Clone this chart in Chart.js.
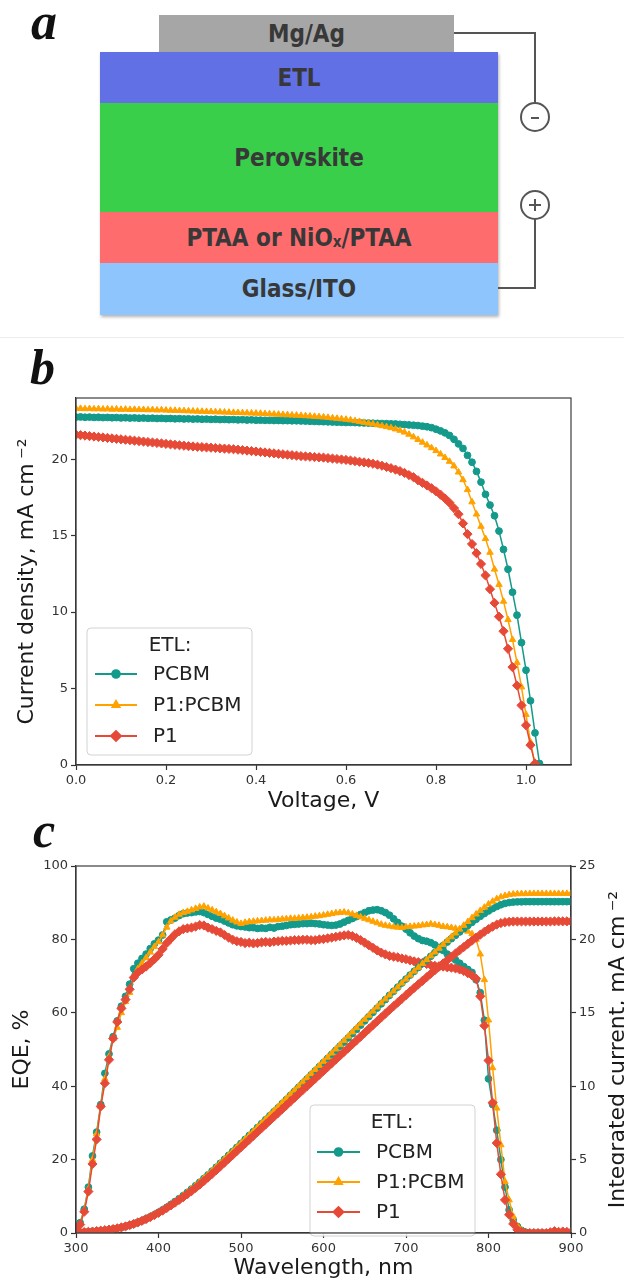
<!DOCTYPE html>
<html>
<head>
<meta charset="utf-8">
<script src="https://cdn.jsdelivr.net/npm/chart.js@4.4.0/dist/chart.umd.min.js"></script>
<style>
  body { margin: 0; background: #fff; }
  #page { position: relative; width: 624px; height: 1283px; overflow: hidden; background: #fff; }
  .plbl { position: absolute; font: bold italic 50px "Liberation Serif", serif; line-height: 50px; color: #111; z-index: 5; }
  .stack { position: absolute; left: 100px; top: 52px; width: 398px; height: 263px; box-shadow: 1px 2px 3px rgba(0,0,0,0.3); }
  .layer { position: absolute; display: flex; align-items: center; justify-content: center;
           font-family: "DejaVu Sans Condensed", "DejaVu Sans", sans-serif; font-stretch: condensed;
           font-weight: bold; font-size: 24px; color: #383838; }
  .layer sub { font-size: 15px; position: relative; top: 4px; vertical-align: baseline; }
  .sep { position: absolute; left: 0; top: 337px; width: 624px; height: 1px; background: #ececec; }
  canvas { position: absolute; left: 0; }
</style>
</head>
<body>
<div id="page">
  <div class="plbl" style="left:31px;top:-3px;font-size:52px;">a</div>
  <div class="layer" style="left:159px;top:15px;width:295px;height:37px;background:#a6a6a6;">Mg/Ag</div>
  <div class="stack">
    <div class="layer" style="left:0;top:0;width:398px;height:51px;background:#6270e6;">ETL</div>
    <div class="layer" style="left:0;top:51px;width:398px;height:109px;background:#3acf4a;">Perovskite</div>
    <div class="layer" style="left:0;top:160px;width:398px;height:51px;background:#ff6c6e;">PTAA or NiO<sub>x</sub>/PTAA</div>
    <div class="layer" style="left:0;top:211px;width:398px;height:52px;background:#8ec5fc;">Glass/ITO</div>
  </div>
  <svg width="624" height="330" style="position:absolute;left:0;top:0;">
    <g fill="none" stroke="#555" stroke-width="2">
      <path d="M454 33 H535 V103"/>
      <circle cx="535" cy="117" r="14"/>
      <circle cx="535" cy="205" r="14"/>
      <path d="M535 219 V288 H498"/>
      <path d="M531 118 H539"/>
      <path d="M529 205 H541 M535 199 V211"/>
    </g>
  </svg>
  <div class="sep"></div>
  <canvas id="jv" width="624" height="472" style="top:340px;"></canvas>
  <canvas id="eqe" width="624" height="471" style="top:812px;"></canvas>
  <div class="plbl" style="left:30px;top:342px;">b</div>
  <div class="plbl" style="left:33px;top:805px;">c</div>
</div>
<script>
// ---- J-V data (panel b) ----
const voltage = [
  0.00,0.01,0.02,0.03,0.04,0.05,0.06,0.07,0.08,0.09,
  0.10,0.11,0.12,0.13,0.14,0.15,0.16,0.17,0.18,0.19,
  0.20,0.21,0.22,0.23,0.24,0.25,0.26,0.27,0.28,0.29,
  0.30,0.31,0.32,0.33,0.34,0.35,0.36,0.37,0.38,0.39,
  0.40,0.41,0.42,0.43,0.44,0.45,0.46,0.47,0.48,0.49,
  0.50,0.51,0.52,0.53,0.54,0.55,0.56,0.57,0.58,0.59,
  0.60,0.61,0.62,0.63,0.64,0.65,0.66,0.67,0.68,0.69,
  0.70,0.71,0.72,0.73,0.74,0.75,0.76,0.77,0.78,0.79,
  0.80,0.81,0.82,0.83,0.84,0.85,0.86,0.87,0.88,0.89,
  0.90,0.91,0.92,0.93,0.94,0.95,0.96,0.97,0.98,0.99,
  1.00,1.01,1.02,1.03
];
const jPCBM = [
  22.75,22.76,22.74,22.75,22.73,22.74,22.72,22.73,22.71,22.72,
  22.70,22.71,22.69,22.70,22.68,22.69,22.67,22.68,22.66,22.67,
  22.65,22.66,22.64,22.65,22.63,22.64,22.62,22.63,22.61,22.62,
  22.60,22.61,22.59,22.60,22.58,22.59,22.57,22.58,22.56,22.57,
  22.55,22.55,22.54,22.54,22.53,22.53,22.52,22.52,22.51,22.51,
  22.50,22.49,22.48,22.47,22.46,22.45,22.44,22.43,22.42,22.41,
  22.40,22.40,22.39,22.38,22.37,22.36,22.35,22.34,22.33,22.32,
  22.31,22.30,22.28,22.26,22.24,22.22,22.20,22.16,22.12,22.06,
  21.96,21.85,21.72,21.55,21.30,21.00,20.70,20.25,19.80,19.20,
  18.50,17.70,17.00,16.30,15.30,14.10,12.80,11.30,9.80,8.00,
  6.20,4.20,2.10,0.10
];
const jBlend = [
  23.30,23.31,23.29,23.30,23.28,23.29,23.27,23.28,23.26,23.27,
  23.25,23.26,23.24,23.25,23.23,23.24,23.22,23.23,23.21,23.22,
  23.20,23.19,23.18,23.17,23.16,23.15,23.14,23.13,23.12,23.11,
  23.10,23.09,23.08,23.07,23.06,23.05,23.04,23.03,23.02,23.01,
  23.00,22.99,22.97,22.96,22.94,22.93,22.91,22.90,22.88,22.87,
  22.85,22.83,22.81,22.79,22.77,22.75,22.72,22.69,22.66,22.63,
  22.60,22.56,22.51,22.46,22.40,22.35,22.30,22.24,22.18,22.12,
  22.05,21.97,21.88,21.76,21.62,21.45,21.28,21.10,20.92,20.74,
  20.55,20.33,20.10,19.85,19.55,19.15,18.65,18.00,17.20,16.40,
  15.60,14.80,13.90,12.80,11.80,10.70,9.50,8.20,6.70,5.10,
  3.30,1.50,0.05
];
const jP1 = [
  21.60,21.57,21.54,21.51,21.48,21.45,21.42,21.39,21.36,21.33,
  21.30,21.27,21.24,21.21,21.18,21.15,21.12,21.09,21.06,21.03,
  21.00,20.97,20.94,20.91,20.88,20.85,20.83,20.81,20.79,20.77,
  20.75,20.73,20.71,20.69,20.67,20.65,20.62,20.59,20.56,20.53,
  20.50,20.47,20.44,20.41,20.38,20.35,20.32,20.29,20.26,20.23,
  20.20,20.18,20.16,20.14,20.12,20.10,20.07,20.04,20.01,19.98,
  19.95,19.91,19.87,19.83,19.79,19.75,19.70,19.64,19.57,19.49,
  19.41,19.32,19.22,19.10,18.96,18.82,18.62,18.45,18.28,18.10,
  17.90,17.68,17.43,17.15,16.80,16.40,15.80,15.10,14.45,13.85,
  13.15,12.40,11.50,10.60,9.70,8.75,7.60,6.40,5.20,3.90,
  2.60,1.30,0.10
];
const jvXTicks = [0.0, 0.2, 0.4, 0.6, 0.8, 1.0];
const jvYTicks = [0, 5, 10, 15, 20];

// ---- EQE data (panel c) ----
const wavelength = [
  300,305,310,315,320,325,330,335,340,345,350,355,360,365,370,375,380,385,390,395,
  400,405,410,415,420,425,430,435,440,445,450,455,460,465,470,475,480,485,490,495,
  500,505,510,515,520,525,530,535,540,545,550,555,560,565,570,575,580,585,590,595,
  600,605,610,615,620,625,630,635,640,645,650,655,660,665,670,675,680,685,690,695,
  700,705,710,715,720,725,730,735,740,745,750,755,760,765,770,775,780,785,790,795,
  800,805,810,815,820,825,830,835,840,845,850,855,860,865,870,875,880,885,890,895,
  900
];
const eqePCBM = [
  0.8,2.8,6.5,12.5,21.0,27.5,35.0,43.5,48.8,53.5,57.8,61.8,64.5,67.8,72.0,73.5,74.8,76.0,77.5,78.8,
  79.8,81.2,84.8,85.3,85.8,86.5,87.0,87.2,87.3,87.5,87.6,87.3,86.8,86.3,85.8,85.5,85.0,84.5,84.0,83.7,
  83.5,83.4,83.2,83.2,83.0,83.1,83.0,83.3,83.1,83.5,83.6,83.8,84.0,84.1,84.2,84.3,84.3,84.4,84.3,84.2,
  84.0,83.9,83.8,83.9,84.2,84.7,85.2,85.7,86.2,86.8,87.3,87.8,88.0,88.1,87.8,87.3,86.6,85.6,84.6,83.6,
  82.8,81.8,80.9,80.2,79.7,79.5,79.1,78.5,77.8,77.0,76.0,75.2,74.4,73.5,72.6,71.8,71.0,69.0,65.5,58.0,
  42.0,35.0,28.0,20.0,12.5,6.3,3.5,1.8,0.7,0.2,0.0,0.0,0.0,0.0,0.0,0.0,0.0,0.0,0.0,0.0,
  0.0
];
const eqeBlend = [
  0.8,2.5,6.3,12.0,20.0,27.0,34.5,42.0,48.0,53.0,56.0,60.0,63.0,65.5,70.0,72.0,73.5,75.0,76.5,78.0,
  79.3,81.2,83.3,85.0,86.0,86.8,87.3,87.6,88.0,88.4,88.8,89.0,88.5,88.0,87.5,87.0,86.4,85.8,85.2,84.7,
  84.3,84.6,84.8,84.9,85.0,85.1,85.2,85.3,85.3,85.4,85.5,85.6,85.7,85.7,85.8,85.9,86.0,86.1,86.3,86.4,
  86.6,86.8,87.0,87.2,87.3,87.4,87.2,86.9,86.5,86.1,85.7,85.3,84.9,84.5,84.1,83.8,83.6,83.4,83.3,83.2,
  83.4,83.5,83.6,83.7,83.9,84.0,84.2,84.0,83.8,83.5,83.4,83.2,83.0,82.8,82.6,82.2,81.5,80.0,76.0,69.0,
  58.0,45.0,34.0,24.0,14.0,9.0,4.5,2.0,0.8,0.3,0.0,0.0,0.0,0.0,0.0,0.0,0.0,0.0,0.0,0.0,
  0.0
];
const eqeP1 = [
  0.8,2.3,5.8,11.3,18.8,25.5,34.5,40.8,47.2,53.0,57.5,61.2,63.6,66.4,69.6,71.0,71.8,72.6,73.6,74.6,
  75.8,77.4,79.0,80.2,81.4,82.2,82.8,83.0,83.2,83.5,83.9,83.8,83.2,82.8,82.3,81.9,81.2,80.5,79.9,79.5,
  79.3,79.0,79.1,78.9,79.0,79.2,79.3,79.2,79.4,79.5,79.6,79.6,79.7,79.8,79.8,79.9,79.9,79.8,79.8,80.0,
  80.1,80.3,80.5,80.7,80.9,81.1,81.2,80.9,80.4,79.8,79.1,78.4,77.7,77.0,76.4,75.9,75.5,75.3,75.1,74.8,
  74.6,74.3,74.0,73.8,73.6,73.3,73.0,72.8,72.7,72.6,72.4,72.3,72.1,71.8,71.4,70.8,70.2,69.3,64.5,56.5,
  47.0,35.5,24.5,16.0,9.0,5.0,2.5,0.9,0.3,0.0,0.0,0.0,0.0,0.0,0.0,0.2,0.5,0.3,0.4,0.3,
  0.2
];
const intPCBM = [
  0.02,0.04,0.06,0.08,0.10,0.13,0.16,0.19,0.23,0.27,0.32,0.38,0.45,0.53,0.62,0.73,0.84,0.97,1.10,1.24,
  1.40,1.57,1.75,1.94,2.14,2.34,2.55,2.77,2.99,3.22,3.46,3.71,3.96,4.22,4.48,4.75,5.02,5.29,5.56,5.83,
  6.10,6.37,6.64,6.91,7.18,7.45,7.72,7.99,8.26,8.53,8.81,9.09,9.37,9.65,9.93,10.21,10.49,10.77,11.05,11.33,
  11.61,11.89,12.17,12.45,12.73,13.01,13.29,13.58,13.87,14.16,14.45,14.74,15.03,15.32,15.61,15.90,16.19,16.47,16.75,17.03,
  17.30,17.57,17.83,18.09,18.35,18.60,18.85,19.10,19.34,19.58,19.82,20.05,20.28,20.51,20.73,20.95,21.16,21.37,21.57,21.76,
  21.94,22.10,22.24,22.36,22.45,22.51,22.54,22.56,22.56,22.57,22.57,22.57,22.57,22.57,22.57,22.57,22.57,22.57,22.57,22.57,
  22.57
];
const intBlend = [
  0.02,0.04,0.06,0.08,0.10,0.13,0.16,0.19,0.23,0.27,0.32,0.38,0.45,0.53,0.62,0.73,0.84,0.96,1.09,1.23,
  1.39,1.56,1.74,1.93,2.13,2.34,2.56,2.78,3.01,3.24,3.48,3.73,3.98,4.24,4.50,4.77,5.04,5.31,5.58,5.85,
  6.12,6.39,6.66,6.93,7.21,7.49,7.77,8.05,8.33,8.61,8.89,9.17,9.45,9.73,10.01,10.29,10.57,10.85,11.13,11.41,
  11.69,11.97,12.25,12.53,12.82,13.11,13.40,13.69,13.98,14.27,14.55,14.83,15.11,15.39,15.67,15.94,16.21,16.48,16.75,17.02,
  17.29,17.56,17.83,18.09,18.35,18.61,18.87,19.13,19.39,19.65,19.91,20.17,20.43,20.69,20.95,21.21,21.47,21.72,21.96,22.18,
  22.40,22.59,22.76,22.89,22.98,23.04,23.08,23.10,23.11,23.11,23.12,23.12,23.12,23.12,23.12,23.12,23.12,23.12,23.12,23.12,
  23.12
];
const intP1 = [
  0.02,0.04,0.06,0.08,0.10,0.13,0.16,0.19,0.23,0.27,0.32,0.38,0.45,0.53,0.62,0.72,0.83,0.95,1.08,1.22,
  1.37,1.53,1.70,1.88,2.06,2.25,2.44,2.64,2.85,3.07,3.30,3.54,3.78,4.03,4.28,4.54,4.80,5.06,5.32,5.58,
  5.84,6.10,6.36,6.62,6.88,7.14,7.40,7.66,7.92,8.18,8.44,8.70,8.96,9.22,9.48,9.74,10.00,10.26,10.52,10.78,
  11.04,11.30,11.56,11.82,12.08,12.34,12.60,12.86,13.12,13.38,13.64,13.90,14.16,14.42,14.68,14.94,15.20,15.45,15.70,15.95,
  16.20,16.45,16.70,16.94,17.18,17.42,17.66,17.90,18.13,18.36,18.59,18.82,19.04,19.26,19.48,19.70,19.91,20.12,20.32,20.52,
  20.70,20.87,21.01,21.11,21.17,21.20,21.22,21.22,21.22,21.22,21.22,21.22,21.22,21.22,21.22,21.22,21.23,21.23,21.23,21.23,
  21.23
];
const eqeXTicks = [300, 400, 500, 600, 700, 800, 900];
const eqeYTicks = [0, 20, 40, 60, 80, 100];
const intYTicks = [0, 5, 10, 15, 20, 25];

const seriesNames = ['PCBM', 'P1:PCBM', 'P1'];
const legendTitle = 'ETL:';

// ---- styles ----
const styles = [
  { color: '#139a8b', pointStyle: 'circle',   radius: 3.4 },
  { color: '#ffa200', pointStyle: 'triangle', radius: 3.7 },
  { color: '#e64a37', pointStyle: 'rectRot',  radius: 4.6 }
];
const FAMILY = "'DejaVu Sans', sans-serif";
const tickFont = { family: FAMILY, size: 13 };
const axisFont = { family: FAMILY, size: 22, lineHeight: 1 };
const INK = '#333';

function series(name, xs, ys, st, axis, order) {
  return {
    label: name,
    data: ys.map((y, i) => ({ x: xs[i], y: y })),
    borderColor: st.color,
    backgroundColor: st.color,
    pointBackgroundColor: st.color,
    pointBorderColor: st.color,
    pointStyle: st.pointStyle,
    pointRadius: st.radius,
    pointBorderWidth: 1,
    borderWidth: 1.5,
    tension: 0,
    yAxisID: axis,
    order: order
  };
}

function setTicks(arr) {
  return s => { s.ticks = arr.map(v => ({ value: v })); };
}

function axis(extra) {
  return Object.assign({
    type: 'linear',
    grid: { drawOnChartArea: false, drawTicks: true, tickLength: 5, tickWidth: 1.2, color: INK },
    border: { display: true, color: INK, width: 1.2 },
    ticks: { font: tickFont, color: INK, padding: 3 }
  }, extra);
}

// legend box, frame and a right-hand axis title
const decor = {
  id: 'decor',
  afterDraw(chart, args, o) {
    const ctx = chart.ctx;
    const L = o.legend;
    ctx.save();
    ctx.fillStyle = 'rgba(255,255,255,0.85)';
    ctx.strokeStyle = '#d2d2d2';
    ctx.lineWidth = 1;
    ctx.beginPath();
    ctx.roundRect(L.x, L.y, L.w, L.h, 4);
    ctx.fill();
    ctx.stroke();

    ctx.font = '20px ' + FAMILY;
    ctx.fillStyle = '#222';
    ctx.textBaseline = 'middle';
    ctx.textAlign = 'center';
    ctx.fillText(legendTitle, L.titleX, L.titleY);
    ctx.textAlign = 'left';
    seriesNames.forEach((name, i) => {
      const st = styles[i];
      const ry = L.rows[i];
      ctx.strokeStyle = st.color;
      ctx.lineWidth = 1.8;
      ctx.beginPath();
      ctx.moveTo(L.line[0], ry);
      ctx.lineTo(L.line[1], ry);
      ctx.stroke();
      ctx.fillStyle = st.color;
      Chart.helpers.drawPoint(ctx, { pointStyle: st.pointStyle, radius: st.radius + 0.5, borderWidth: 1, rotation: 0 },
        (L.line[0] + L.line[1]) / 2, ry);
      ctx.fillStyle = '#222';
      ctx.fillText(name, L.textX, ry + 1);
    });

    const a = chart.chartArea;
    ctx.strokeStyle = '#3c3c3c';
    ctx.lineWidth = 1.2;
    ctx.strokeRect(a.left, a.top, a.right - a.left, a.bottom - a.top);

    if (o.sideTitle) {
      ctx.translate(o.sideTitle.x, (a.top + a.bottom) / 2);
      ctx.rotate(-Math.PI / 2);
      ctx.font = '22px ' + FAMILY;
      ctx.fillStyle = '#1a1a1a';
      ctx.textAlign = 'center';
      ctx.textBaseline = 'alphabetic';
      ctx.fillText(o.sideTitle.text, 0, 0);
    }
    ctx.restore();
  }
};

// ---- panel b ----
new Chart(document.getElementById('jv'), {
  type: 'line',
  data: {
    datasets: [
      series(seriesNames[0], voltage, jPCBM, styles[0], 'y', 2),
      series(seriesNames[1], voltage, jBlend, styles[1], 'y', 1),
      series(seriesNames[2], voltage, jP1, styles[2], 'y', 0)
    ]
  },
  options: {
    responsive: false,
    animation: false,
    events: [],
    devicePixelRatio: 1,
    layout: { padding: { left: 16, right: 53, top: 58, bottom: 0 } },
    plugins: {
      legend: { display: false },
      tooltip: { enabled: false },
      decor: {
        legend: { x: 87, y: 288, w: 165, h: 127, titleX: 170, titleY: 306,
                  rows: [334, 365, 396], line: [95, 137], textX: 153 }
      }
    },
    scales: {
      x: axis({
        min: 0, max: 1.1,
        afterBuildTicks: setTicks(jvXTicks),
        afterFit: s => { s.height = 47; },
        ticks: { font: tickFont, color: INK, padding: 3, callback: v => v.toFixed(1) },
        title: { display: true, text: 'Voltage, V', font: axisFont, color: '#1a1a1a', padding: { top: 0, bottom: 0 } }
      }),
      y: axis({
        min: 0, max: 24,
        afterBuildTicks: setTicks(jvYTicks),
        afterFit: s => { s.width = 60; },
        title: { display: true, text: 'Current density, mA cm\u2009\u207B\u00B2', font: axisFont, color: '#1a1a1a', padding: { top: 0, bottom: 0 } }
      })
    }
  },
  plugins: [decor]
});

// ---- panel c ----
new Chart(document.getElementById('eqe'), {
  type: 'line',
  data: {
    datasets: [
      series(seriesNames[0], wavelength, eqePCBM, styles[0], 'y', 5),
      series(seriesNames[1], wavelength, eqeBlend, styles[1], 'y', 4),
      series(seriesNames[2], wavelength, eqeP1, styles[2], 'y', 3),
      series(seriesNames[0], wavelength, intPCBM, styles[0], 'y2', 2),
      series(seriesNames[1], wavelength, intBlend, styles[1], 'y2', 1),
      series(seriesNames[2], wavelength, intP1, styles[2], 'y2', 0)
    ]
  },
  options: {
    responsive: false,
    animation: false,
    events: [],
    devicePixelRatio: 1,
    layout: { padding: { left: 11, right: 0, top: 54, bottom: 0 } },
    plugins: {
      legend: { display: false },
      tooltip: { enabled: false },
      decor: {
        legend: { x: 310, y: 293, w: 165, h: 131, titleX: 392, titleY: 311,
                  rows: [340, 370, 400], line: [317, 360], textX: 376 },
        sideTitle: { text: 'Integrated current, mA cm\u2009\u207B\u00B2', x: 624 }
      }
    },
    scales: {
      x: axis({
        min: 300, max: 900,
        afterBuildTicks: setTicks(eqeXTicks),
        afterFit: s => { s.height = 50; },
        title: { display: true, text: 'Wavelength, nm', font: axisFont, color: '#1a1a1a', padding: { top: 0, bottom: 4 } }
      }),
      y: axis({
        min: 0, max: 100,
        afterBuildTicks: setTicks(eqeYTicks),
        afterFit: s => { s.width = 65; },
        title: { display: true, text: 'EQE, %', font: axisFont, color: '#1a1a1a', padding: { top: 0, bottom: 0 } }
      }),
      y2: axis({
        position: 'right',
        min: 0, max: 25,
        afterBuildTicks: setTicks(intYTicks),
        afterFit: s => { s.width = 53; }
      })
    }
  },
  plugins: [decor]
});
</script>
</body>
</html>
